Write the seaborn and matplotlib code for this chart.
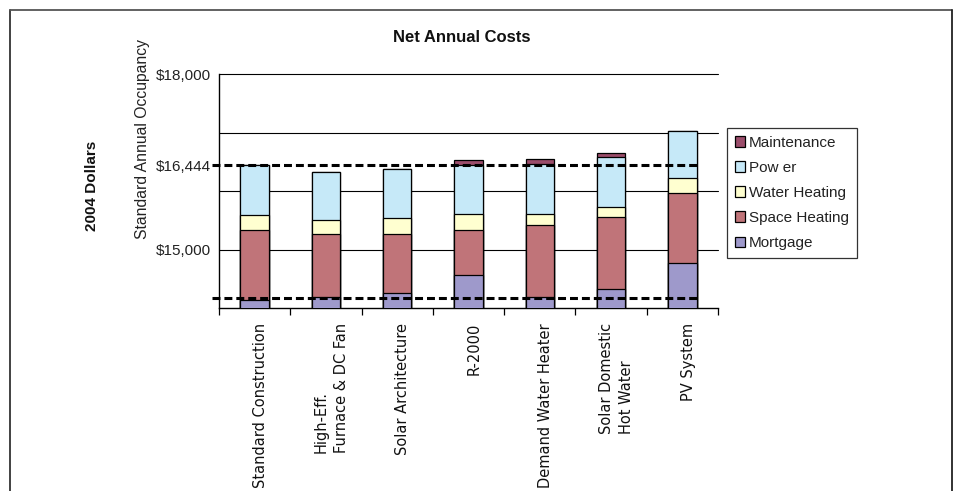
import matplotlib
matplotlib.use("Agg")
import matplotlib.pyplot as plt
from matplotlib.lines import Line2D
from matplotlib.patches import Patch
import seaborn as sns
import pandas as pd
import numpy as np

# ---------------- data ----------------
designs = ["Standard Construction", "High-Eff.\nFurnace & DC Fan", "Solar Architecture",
           "R-2000", "Demand Water Heater", "Solar Domestic\nHot Water", "PV System"]
mortgage = [14135, 14190, 14267, 14563, 14190, 14335, 14768]
space_heating = [1209, 1079, 1002, 781, 1228, 1232, 1197]
water_heating = [250, 246, 274, 274, 193, 159, 257]
power = [850, 804, 832, 832, 859, 849, 803]
maintenance = [0, 0, 0, 85, 82, 74, 0]
series_names = ["Mortgage", "Space Heating", "Water Heating", "Pow er", "Maintenance"]
series_colors = ["#9E99CB", "#C07479", "#FFFFD0", "#C6E9F8", "#9B4D6B"]
ref_upper = 16444
ref_lower = 14180
y_ticks = [15000, 16444, 18000]
y_tick_labels = ["$15,000", "$16,444", "$18,000"]
grid_values = [15000, 16000, 17000, 18000]

# ---------------- build table ----------------
df = pd.DataFrame({"Design": designs, "Mortgage": mortgage, "Space Heating": space_heating,
                   "Water Heating": water_heating, "Pow er": power, "Maintenance": maintenance})
cum = df[series_names].cumsum(axis=1)
cum["Design"] = df["Design"]

sns.set_theme(style="white")
plt.rcParams["font.family"] = ["Liberation Sans", "DejaVu Sans"]

fig = plt.figure(figsize=(9.56, 4.91), dpi=100)
W, H = 956, 491
ax = fig.add_axes([219 / W, 1 - 308.3 / H, (718 - 219) / W, (308.3 - 74) / H])

for name, col in reversed(list(zip(series_names, series_colors))):
    sns.barplot(data=cum, x="Design", y=name, order=designs, color=col, saturation=1,
                width=0.4, edgecolor="black", linewidth=0.9, errorbar=None, ax=ax, zorder=3)

ax.set_xlim(-0.5, len(designs) - 0.5)
ax.set_ylim(14000, 18000)
ax.set_xlabel("")
ax.set_ylabel("")

# y ticks and grid
ax.set_yticks(y_ticks)
ax.set_yticklabels(y_tick_labels, fontsize=11, color="#222222")
ax.tick_params(axis="y", which="both", length=0, pad=6)
for g in grid_values:
    ax.axhline(g, color="black", linewidth=0.8, zorder=0, clip_on=False)

# x ticks at category boundaries
ax.set_xticks(np.arange(len(designs)))
ax.set_xticklabels([])
ax.set_xticks(np.arange(-0.5, len(designs)), minor=True)
ax.tick_params(axis="x", which="major", length=0)
ax.tick_params(axis="x", which="minor", length=5, width=0.9, color="black", direction="out",
               bottom=True)

for s in ["top", "right"]:
    ax.spines[s].set_visible(False)
for s in ["left", "bottom"]:
    ax.spines[s].set_color("black")
    ax.spines[s].set_linewidth(1.0)

# reference dashed lines
for v in (ref_upper, ref_lower):
    ax.plot([-0.6, len(designs) - 0.8], [v, v], color="black", linewidth=2.2,
            dashes=(2.6, 1.3), clip_on=False, zorder=5)

# category labels (rotated, top-aligned under the axis)
label_top_frac = (308.3 - 323) / (308.3 - 74)
for i, lab in enumerate(designs):
    ax.text(i + 0.08, label_top_frac, lab, rotation=90, ha="center", va="top",
            multialignment="left", fontsize=10.5, color="#111111", linespacing=1.45,
            family=["DejaVu Sans"],
            transform=ax.get_xaxis_transform(), clip_on=False)

# titles
fig.text(462 / W, 1 - 37 / H, "Net Annual Costs", ha="center", va="center",
         fontsize=12, fontweight="bold", color="#111111")
fig.text(142 / W, 1 - 139 / H, "Standard Annual Occupancy", rotation=90, ha="center",
         va="center", fontsize=11.3, color="#222222")
fig.text(92 / W, 1 - 186 / H, "2004 Dollars", rotation=90, ha="center", va="center",
         fontsize=11, fontweight="bold", color="#111111")

# legend
handles = [Patch(facecolor=c, edgecolor="black", linewidth=0.9)
           for c in reversed(series_colors)]
leg = fig.legend(handles, list(reversed(series_names)), loc="upper left",
                 bbox_to_anchor=(727 / W, 1 - 128 / H), bbox_transform=fig.transFigure,
                 fontsize=11, frameon=True, fancybox=False, edgecolor="black",
                 handlelength=0.7, handleheight=0.7, handletextpad=0.25,
                 labelspacing=0.73, borderpad=0.5, borderaxespad=0)
leg.get_frame().set_linewidth(0.9)
for t in leg.get_texts():
    t.set_color("#222222")

# outer frame (open at bottom)
fig.add_artist(Line2D([10 / W, 10 / W], [0, 1 - 10 / H], transform=fig.transFigure,
                      color="#333333", linewidth=1.3))
fig.add_artist(Line2D([10 / W, 952 / W], [1 - 10 / H, 1 - 10 / H], transform=fig.transFigure,
                      color="#555555", linewidth=1.3))
fig.add_artist(Line2D([952 / W, 952 / W], [0, 1 - 10 / H], transform=fig.transFigure,
                      color="#222222", linewidth=1.3))

fig.savefig("out.png", dpi=100)
